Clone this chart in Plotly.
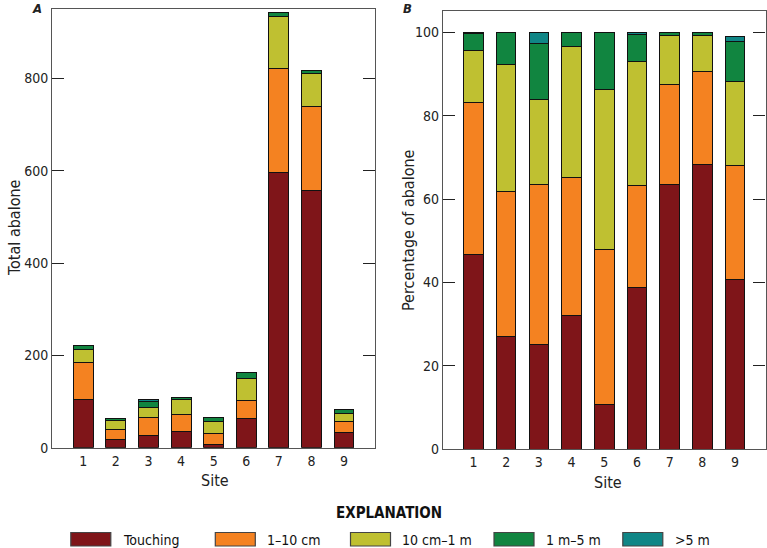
import plotly.graph_objects as go

W, H = 767, 548

sites = [1, 2, 3, 4, 5, 6, 7, 8, 9]
categories = ["Touching", "1–10 cm", "10 cm–1 m", "1 m–5 m", ">5 m"]
colors = ["#7f1519", "#f48221", "#bfc031", "#118540", "#108686"]

# Panel A: total abalone counts per distance class
total_touching = [104, 17, 26, 35, 7, 63, 596, 557, 34]
total_1_10cm = [80, 22, 40, 36, 24, 40, 226, 182, 23]
total_10cm_1m = [28, 19, 21, 34, 25, 48, 112, 72, 17]
total_1m_5m = [9, 5, 14, 4, 9, 11, 8, 7, 8]
total_gt5m = [1, 0, 3, 0, 0, 1, 0, 0, 1]

# Panel B: percentage of abalone per distance class
pct_touching = [46.8, 27.1, 25.1, 32.1, 10.8, 38.8, 63.5, 68.3, 40.6]
pct_1_10cm = [36.3, 34.8, 38.4, 33.1, 37.0, 24.5, 23.9, 22.3, 27.5]
pct_10cm_1m = [12.6, 30.4, 20.3, 31.4, 38.5, 29.6, 11.8, 8.7, 20.2]
pct_1m_5m = [4.0, 7.7, 13.6, 3.4, 13.7, 6.6, 0.8, 0.7, 9.5]
pct_gt5m = [0.3, 0.0, 2.6, 0.0, 0.0, 0.5, 0.0, 0.0, 1.2]

yticks_a = [0, 200, 400, 600, 800]
yticks_b = [0, 20, 40, 60, 80, 100]

FONT = "Liberation Sans Narrow, DejaVu Sans Condensed, Arial Narrow, sans-serif"

totals = [total_touching, total_1_10cm, total_10cm_1m, total_1m_5m, total_gt5m]
pcts = [pct_touching, pct_1_10cm, pct_10cm_1m, pct_1m_5m, pct_gt5m]

fig = go.Figure()
for name, col, vals in zip(categories, colors, totals):
    fig.add_trace(go.Bar(x=sites, y=vals, name=name, marker=dict(color=col, line=dict(color="#111111", width=1)),
                         width=0.61, xaxis="x", yaxis="y", showlegend=False))
for name, col, vals in zip(categories, colors, pcts):
    fig.add_trace(go.Bar(x=sites, y=vals, name=name, marker=dict(color=col, line=dict(color="#111111", width=1)),
                         width=0.6, xaxis="x2", yaxis="y2", showlegend=False))

def px(x):
    return x / W

def py(y):
    return 1 - y / H

axis_common = dict(showgrid=False, zeroline=False, showline=True, linecolor="#555555", linewidth=1.3,
                   mirror="ticks", ticks="inside", ticklen=12, tickcolor="#222222", tickwidth=1.2,
                   tickfont=dict(family=FONT, size=14, color="#222222"), automargin=False)

fig.update_layout(
    width=W, height=H,
    margin=dict(l=0, r=0, t=0, b=0),
    paper_bgcolor="white", plot_bgcolor="white",
    barmode="stack", bargap=0.4,
    font=dict(family=FONT, size=14, color="#222222"),
    xaxis=dict(domain=[px(52.3), px(375)], range=[0.05, 9.95], tickvals=sites, anchor="y", **axis_common),
    yaxis=dict(domain=[py(447.7), py(9.3)], range=[0, 950], tickvals=yticks_a, anchor="x", **axis_common),
    xaxis2=dict(domain=[px(443), px(765.5)], range=[0.07, 9.93], tickvals=sites, anchor="y2", **axis_common),
    yaxis2=dict(domain=[py(449.3), py(11)], range=[0, 105.1], tickvals=yticks_b, anchor="x2", **axis_common),
)
fig.update_xaxes(ticks="", showticklabels=True)


def note(text, x, y, size=15, angle=0, xanchor="center", color="#222222"):
    return dict(text=text, x=px(x), y=py(y), xref="paper", yref="paper", showarrow=False,
                xanchor=xanchor, yanchor="middle", textangle=angle,
                font=dict(family=FONT, size=size, color=color))


ann = [
    note("<b><i>A</i></b>", 37, 9, size=13),
    note("<b><i>B</i></b>", 407, 9, size=13),
    note("Total abalone", 14, 228, size=16, angle=-90),
    note("Percentage of abalone", 408, 230, size=16, angle=-90),
    note("Site", 215, 480, size=16),
    note("Site", 608, 482.5, size=16),
    note("<b>EXPLANATION</b>", 389, 513, size=15, color="#111111"),
]

swatch_x = [70.8, 215.3, 350.5, 494, 622.8]
shapes = []
for name, col, sx in zip(categories, colors, swatch_x):
    shapes.append(dict(type="rect", xref="paper", yref="paper", x0=px(sx), x1=px(sx + 40),
                       y0=py(546), y1=py(532.5), fillcolor=col, line=dict(color="#444444", width=1.2)))
    ann.append(note(name, sx + 50, 540, size=14, xanchor="left", color="#111111"))

fig.update_layout(annotations=ann, shapes=shapes)
fig.write_html("out.html")
